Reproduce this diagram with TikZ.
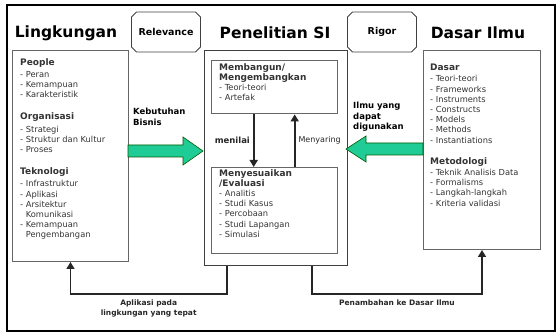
\documentclass[tikz,border=0pt]{standalone}
\usepackage{fontspec}
\setmainfont{DejaVu Sans}
\usetikzlibrary{arrows.meta, shapes.misc}

\newcommand{\grp}[1]{{\bfseries\fontsize{9}{10}\selectfont #1}}

\begin{document}
\begin{tikzpicture}[x=1pt, y=-1pt]
  \tikzset{box/.style = {draw=black!60, line width=1pt, inner sep=0pt, anchor=north west}}
  \tikzset{tag/.style = {chamfered rectangle, chamfered rectangle xsep=2.5pt, chamfered rectangle ysep=2.5pt,
      draw=black!75, line width=0.8pt, minimum width=69pt, minimum height=40pt, inner sep=0pt,
      font=\bfseries\fontsize{9.5}{11}\selectfont}}
  \tikzset{title/.style = {font=\bfseries\fontsize{15.5}{18}\selectfont}}
  \tikzset{list/.style = {align=left, anchor=north west, inner sep=0pt, text=black!80,
      font=\fontsize{8.3}{10.2}\selectfont}}
  \tikzset{lbl/.style = {align=left, inner sep=3pt, font=\bfseries\fontsize{8.5}{10.5}\selectfont}}
  \tikzset{foot/.style = {align=center, inner sep=5pt, font=\bfseries\fontsize{7.5}{10}\selectfont}}
  \tikzset{edge/.style = {->, > = {Triangle[length=7pt, width=8pt]}, line width=1.6pt, black!85}}
  \tikzset{fat/.style = {draw=green!35!black, fill={rgb,255:red,32;green,204;blue,150}, line width=0.6pt}}

  \useasboundingbox (0,0) rectangle (560,336);
  \draw[line width=1.2pt] (7,5) rectangle (555,331);

  % titles
  \node[title] (lt) at (66,33) {Lingkungan};
  \node[title] (pt) at (275,33) {Penelitian SI};
  \node[title] (dt) at (478,33) {Dasar Ilmu};
  \node[tag] (rel) at (166,32) {Relevance};
  \node[tag] (rig) at (382,32) {Rigor};

  % boxes
  \node[box, minimum width=116pt, minimum height=211pt] (1) at (12,50) {};
  \node[box, minimum width=143pt, minimum height=215pt, draw=black!75, line width=0.8pt] (2) at (204,50) {};
  \node[box, minimum width=117pt, minimum height=199pt] (3) at (423,50) {};
  \node[box, minimum width=126pt, minimum height=53pt, line width=1.4pt] (4) at (211,60) {};
  \node[box, minimum width=126pt, minimum height=86pt, line width=1.4pt] (5) at (211,167) {};

  \node[list] (1a) at ([shift={(8,8)}]1.north west) {\grp{People}\\[2pt]
    - Peran\\- Kemampuan\\- Karakteristik\\[12pt]
    \grp{Organisasi}\\[2pt]
    - Strategi\\- Struktur dan Kultur\\- Proses\\[12pt]
    \grp{Teknologi}\\[2pt]
    - Infrastruktur\\- Aplikasi\\- Arsitektur\\\phantom{- }Komunikasi\\- Kemampuan\\\phantom{- }Pengembangan};
  \node[list] (3a) at ([shift={(7,14)}]3.north west) {\grp{Dasar}\\[1pt]
    - Teori-teori\\- Frameworks\\- Instruments\\- Constructs\\- Models\\- Methods\\- Instantiations\\[11pt]
    \grp{Metodologi}\\[1pt]
    - Teknik Analisis Data\\- Formalisms\\- Langkah-langkah\\- Kriteria validasi};
  \node[list] (4a) at ([shift={(8,3)}]4.north west) {\grp{Membangun/}\\\grp{Mengembangkan}\\
    - Teori-teori\\- Artefak};
  \node[list] (5a) at ([shift={(8,2)}]5.north west) {\grp{Menyesuaikan}\\\grp{/Evaluasi}\\
    - Analitis\\- Studi Kasus\\- Percobaan\\- Studi Lapangan\\- Simulasi};

  % green arrows
  \draw[fat] (128,145) -- (183,145) -- (183,137) -- (203,151) -- (183,165) -- (183,157) -- (128,157) -- cycle;
  \draw[fat] (423,143) -- (366,143) -- (366,136) -- (346,149) -- (366,162) -- (366,155) -- (423,155) -- cycle;
  \node[lbl, anchor=north west] (kb) at (130,105) {Kebutuhan\\Bisnis};
  \node[lbl, anchor=north west] (il) at (350,99) {Ilmu yang\\dapat\\digunakan};

  % inner loop
  \draw[edge] ([xshift=-21pt]4.south) -- ([xshift=-21pt]5.north) node[midway, left, lbl] {menilai};
  \draw[edge] ([xshift=20pt]5.north) -- ([xshift=20pt]4.south)
    node[midway, right, inner sep=3pt, font=\fontsize{8}{10}\selectfont] {Menyaring};

  % feedback
  \draw[edge] ([xshift=-49pt]2.south) -- ++(0,28) -| node[pos=0.25, below, foot] {Aplikasi pada\\lingkungan yang tepat} (1.south);
  \draw[edge] ([xshift=36pt]2.south) -- ++(0,28) -| node[pos=0.25, below, foot] {Penambahan ke Dasar Ilmu} (3.south);
\end{tikzpicture}
\end{document}
